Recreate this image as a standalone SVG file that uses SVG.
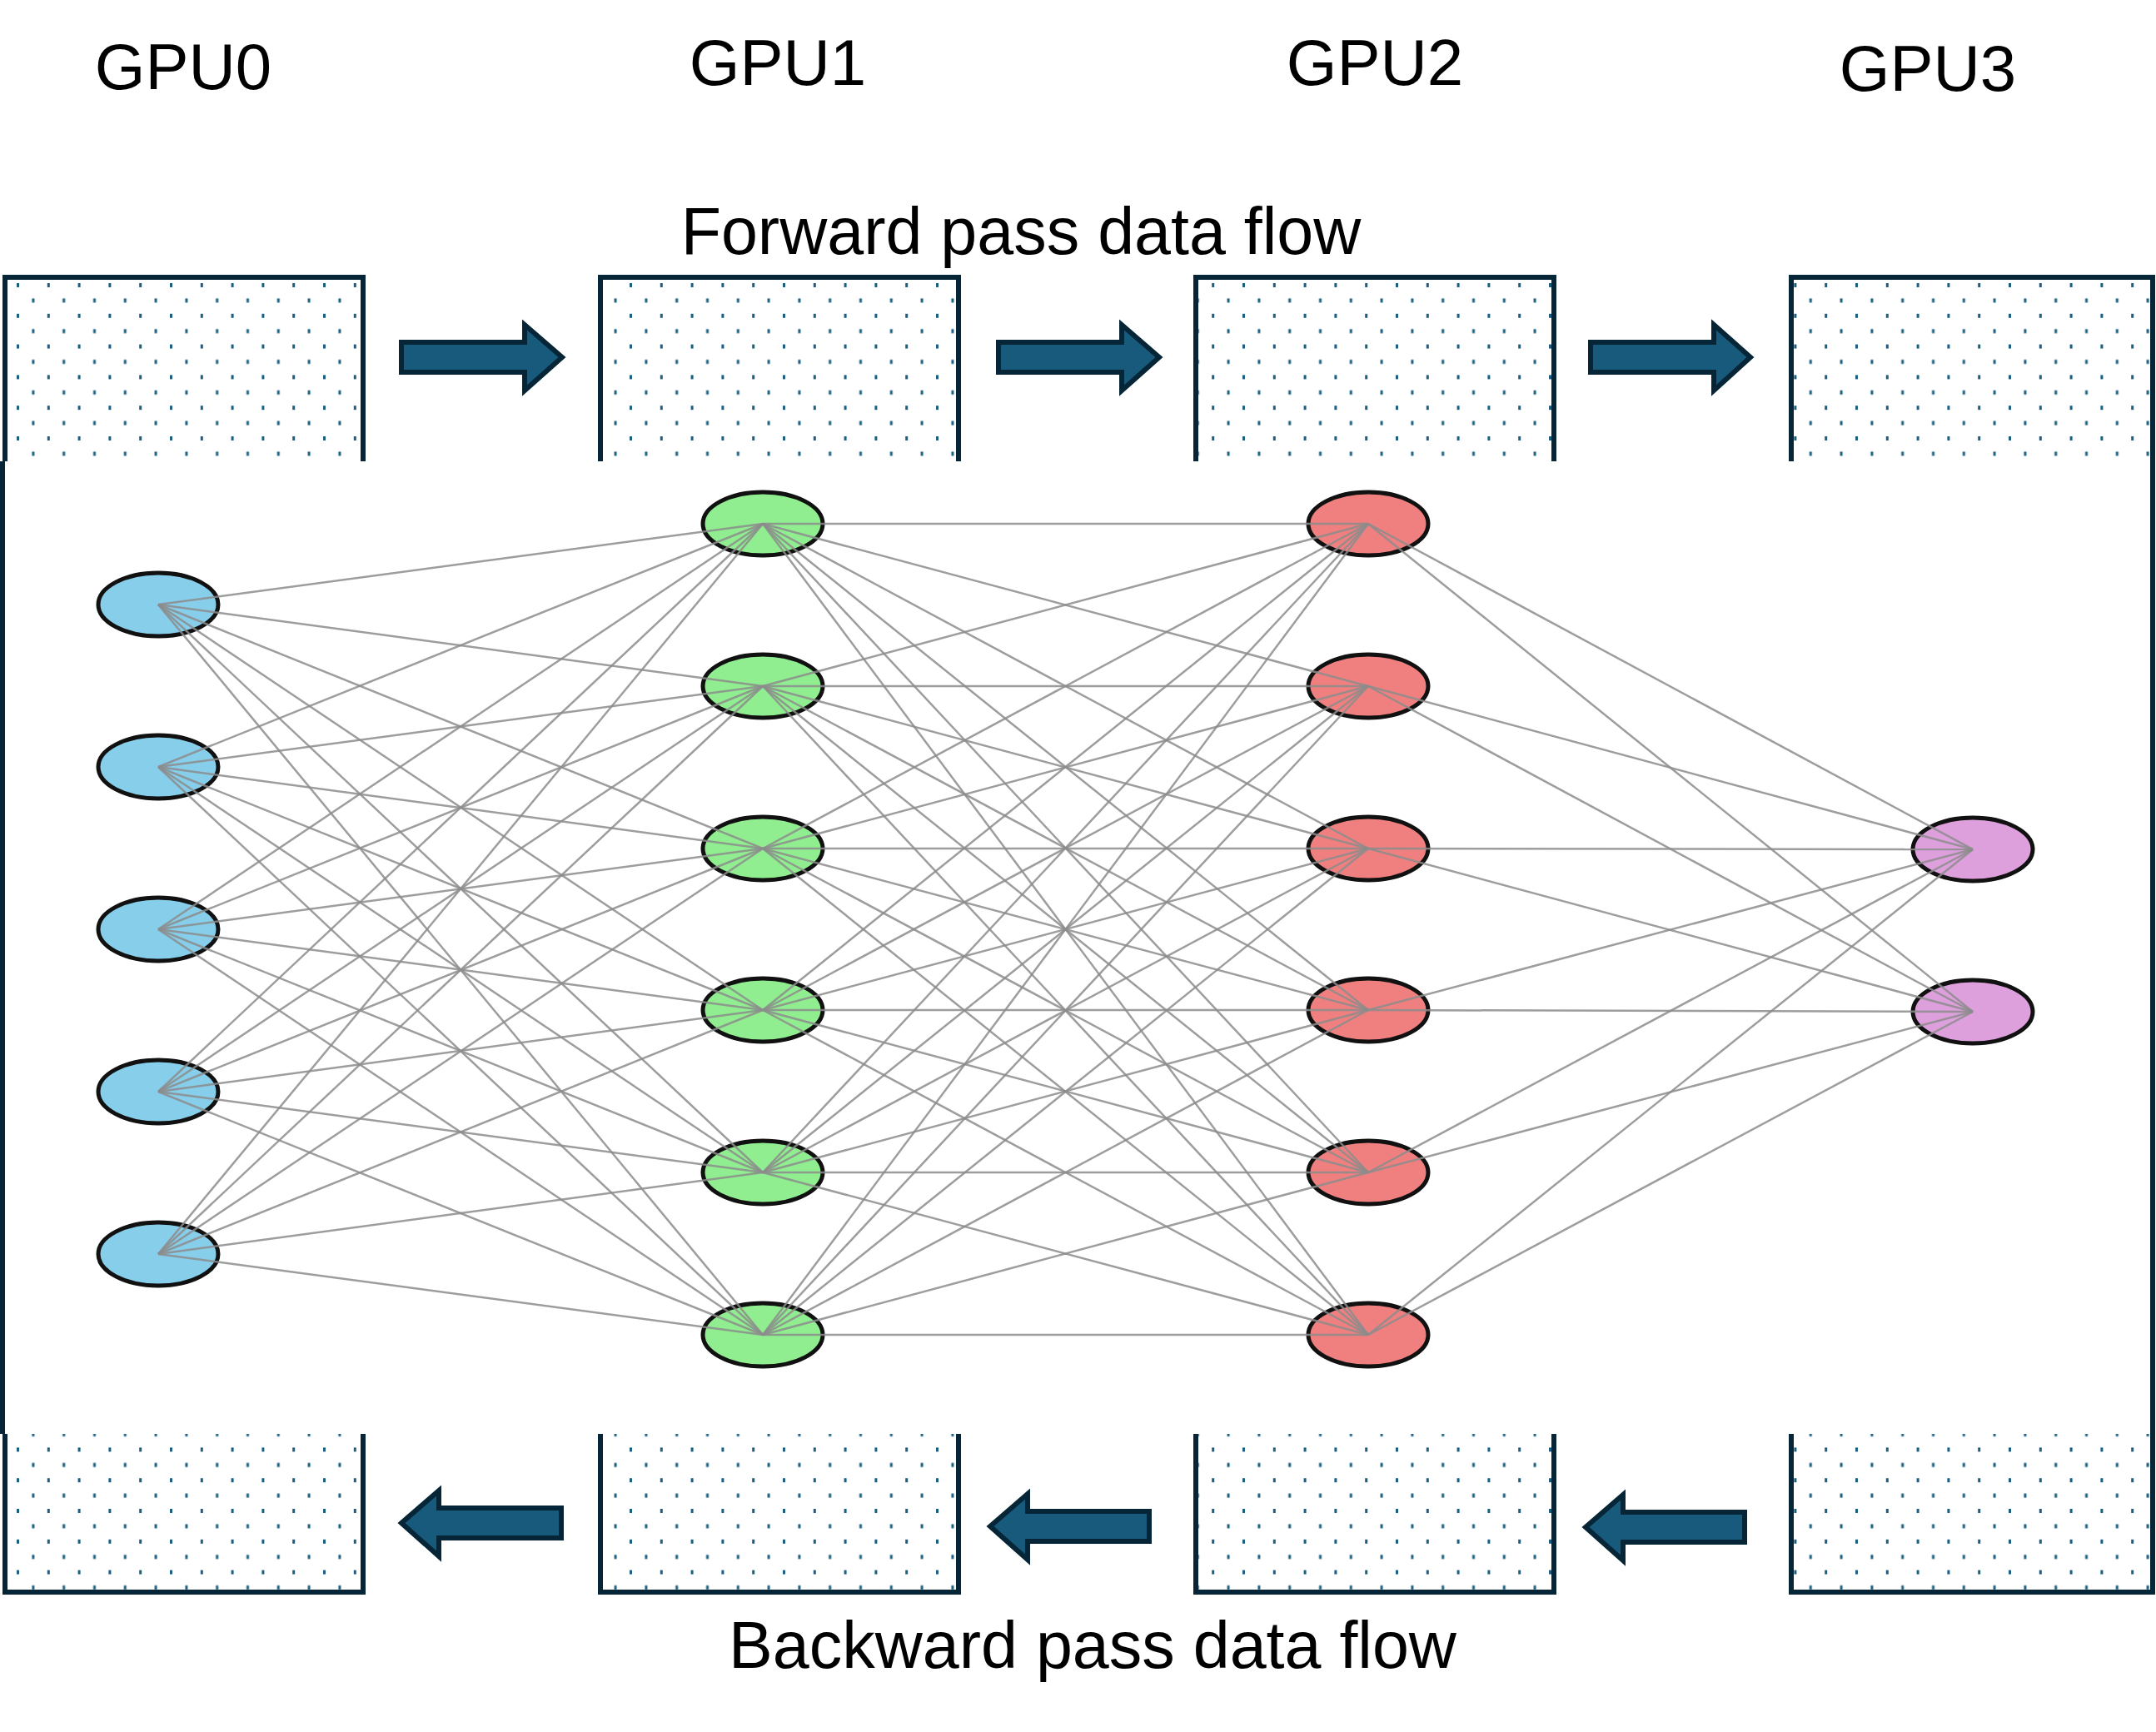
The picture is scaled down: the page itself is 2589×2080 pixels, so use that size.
<svg xmlns="http://www.w3.org/2000/svg" width="2589" height="2080" viewBox="0 0 2589 2080">
<style>
.lbl{font-family:"Liberation Sans",Arial,sans-serif;fill:#000}
.box{fill:url(#dots);stroke:none}
.edge{stroke:#062537;stroke-width:6;fill:none}
.arrow{fill:#175a7c;stroke:#062537;stroke-width:6}
.n{stroke:#111;stroke-width:5}
.c line{stroke:#8c8c8c;stroke-width:2.5;stroke-opacity:0.85}
</style>
<defs>
<pattern id="dots" patternUnits="userSpaceOnUse" x="20" y="340" width="36.8" height="36.8">
<rect x="0" y="0" width="3" height="5" fill="#1a5e80"/>
<rect x="18.4" y="18.4" width="3" height="5" fill="#1a5e80"/>
</pattern>
</defs>
<rect width="2589" height="2080" fill="#fff"/>
<text class="lbl" x="220" y="107" font-size="78" text-anchor="middle">GPU0</text>
<text class="lbl" x="934" y="102" font-size="78" text-anchor="middle">GPU1</text>
<text class="lbl" x="1651" y="102" font-size="78" text-anchor="middle">GPU2</text>
<text class="lbl" x="2315" y="109" font-size="78" text-anchor="middle">GPU3</text>
<text class="lbl" x="1226" y="305" font-size="79" text-anchor="middle">Forward pass data flow</text>
<text class="lbl" x="1312" y="2003" font-size="79" text-anchor="middle">Backward pass data flow</text>
<g id="frame">
<line class="edge" x1="3" y1="554" x2="3" y2="1722" stroke-width="3"/>
<line class="edge" x1="2585" y1="330" x2="2585" y2="1915"/>
</g>
<g id="top-boxes">
<rect class="box" x="6" y="335" width="430" height="219"/><path class="edge" d="M6,554V333H436V554"/>
<rect class="box" x="721" y="335" width="430" height="219"/><path class="edge" d="M721,554V333H1151V554"/>
<rect class="box" x="1436" y="335" width="430" height="219"/><path class="edge" d="M1436,554V333H1866V554"/>
<rect class="box" x="2151" y="335" width="431" height="219"/><path class="edge" d="M2151,554V333H2585V554"/>
</g>
<g id="bottom-boxes">
<rect class="box" x="6" y="1722" width="430" height="190"/><path class="edge" d="M6,1722V1912H436V1722"/>
<rect class="box" x="721" y="1722" width="430" height="190"/><path class="edge" d="M721,1722V1912H1151V1722"/>
<rect class="box" x="1436" y="1722" width="430" height="190"/><path class="edge" d="M1436,1722V1912H1866V1722"/>
<rect class="box" x="2151" y="1722" width="431" height="190"/><path class="edge" d="M2151,1722V1912H2585V1722"/>
</g>
<g id="arrows">
<path class="arrow" d="M482,411H630V390L675,429L630,469V447H482Z"/>
<path class="arrow" d="M1199,411H1347V390L1392,429L1347,469V447H1199Z"/>
<path class="arrow" d="M1910,411H2058V390L2102,429L2058,469V447H1910Z"/>
<path class="arrow" d="M674,1811H527V1790L482,1829L527,1869V1847H674Z"/>
<path class="arrow" d="M1380,1815H1234V1794L1189,1833L1234,1873V1851H1380Z"/>
<path class="arrow" d="M2095,1816H1949V1795L1904,1834L1949,1874V1852H2095Z"/>
</g>
<g id="nodes">
<g id="b0"><ellipse class="n" cx="190" cy="726" rx="72" ry="38" fill="#87ceeb"/></g>
<g id="b1"><ellipse class="n" cx="190" cy="921" rx="72" ry="38" fill="#87ceeb"/></g>
<g id="b2"><ellipse class="n" cx="190" cy="1116" rx="72" ry="38" fill="#87ceeb"/></g>
<g id="b3"><ellipse class="n" cx="190" cy="1311" rx="72" ry="38" fill="#87ceeb"/></g>
<g id="b4"><ellipse class="n" cx="190" cy="1506" rx="72" ry="38" fill="#87ceeb"/></g>
<g id="g0"><ellipse class="n" cx="916" cy="629" rx="72" ry="38" fill="#90ee90"/></g>
<g id="g1"><ellipse class="n" cx="916" cy="824" rx="72" ry="38" fill="#90ee90"/></g>
<g id="g2"><ellipse class="n" cx="916" cy="1019" rx="72" ry="38" fill="#90ee90"/></g>
<g id="g3"><ellipse class="n" cx="916" cy="1213" rx="72" ry="38" fill="#90ee90"/></g>
<g id="g4"><ellipse class="n" cx="916" cy="1408" rx="72" ry="38" fill="#90ee90"/></g>
<g id="g5"><ellipse class="n" cx="916" cy="1603" rx="72" ry="38" fill="#90ee90"/></g>
<g id="r0"><ellipse class="n" cx="1643" cy="629" rx="72" ry="38" fill="#f08080"/></g>
<g id="r1"><ellipse class="n" cx="1643" cy="824" rx="72" ry="38" fill="#f08080"/></g>
<g id="r2"><ellipse class="n" cx="1643" cy="1019" rx="72" ry="38" fill="#f08080"/></g>
<g id="r3"><ellipse class="n" cx="1643" cy="1213" rx="72" ry="38" fill="#f08080"/></g>
<g id="r4"><ellipse class="n" cx="1643" cy="1408" rx="72" ry="38" fill="#f08080"/></g>
<g id="r5"><ellipse class="n" cx="1643" cy="1603" rx="72" ry="38" fill="#f08080"/></g>
<g id="p0"><ellipse class="n" cx="2369" cy="1020" rx="72" ry="38" fill="#dda0dd"/></g>
<g id="p1"><ellipse class="n" cx="2369" cy="1215" rx="72" ry="38" fill="#dda0dd"/></g>
</g>
<g id="connectors" class="c">
<line x1="190" y1="726" x2="916" y2="629"/><line x1="190" y1="726" x2="916" y2="824"/><line x1="190" y1="726" x2="916" y2="1019"/><line x1="190" y1="726" x2="916" y2="1213"/><line x1="190" y1="726" x2="916" y2="1408"/><line x1="190" y1="726" x2="916" y2="1603"/>
<line x1="190" y1="921" x2="916" y2="629"/><line x1="190" y1="921" x2="916" y2="824"/><line x1="190" y1="921" x2="916" y2="1019"/><line x1="190" y1="921" x2="916" y2="1213"/><line x1="190" y1="921" x2="916" y2="1408"/><line x1="190" y1="921" x2="916" y2="1603"/>
<line x1="190" y1="1116" x2="916" y2="629"/><line x1="190" y1="1116" x2="916" y2="824"/><line x1="190" y1="1116" x2="916" y2="1019"/><line x1="190" y1="1116" x2="916" y2="1213"/><line x1="190" y1="1116" x2="916" y2="1408"/><line x1="190" y1="1116" x2="916" y2="1603"/>
<line x1="190" y1="1311" x2="916" y2="629"/><line x1="190" y1="1311" x2="916" y2="824"/><line x1="190" y1="1311" x2="916" y2="1019"/><line x1="190" y1="1311" x2="916" y2="1213"/><line x1="190" y1="1311" x2="916" y2="1408"/><line x1="190" y1="1311" x2="916" y2="1603"/>
<line x1="190" y1="1506" x2="916" y2="629"/><line x1="190" y1="1506" x2="916" y2="824"/><line x1="190" y1="1506" x2="916" y2="1019"/><line x1="190" y1="1506" x2="916" y2="1213"/><line x1="190" y1="1506" x2="916" y2="1408"/><line x1="190" y1="1506" x2="916" y2="1603"/>
<line x1="916" y1="629" x2="1643" y2="629"/><line x1="916" y1="629" x2="1643" y2="824"/><line x1="916" y1="629" x2="1643" y2="1019"/><line x1="916" y1="629" x2="1643" y2="1213"/><line x1="916" y1="629" x2="1643" y2="1408"/><line x1="916" y1="629" x2="1643" y2="1603"/>
<line x1="916" y1="824" x2="1643" y2="629"/><line x1="916" y1="824" x2="1643" y2="824"/><line x1="916" y1="824" x2="1643" y2="1019"/><line x1="916" y1="824" x2="1643" y2="1213"/><line x1="916" y1="824" x2="1643" y2="1408"/><line x1="916" y1="824" x2="1643" y2="1603"/>
<line x1="916" y1="1019" x2="1643" y2="629"/><line x1="916" y1="1019" x2="1643" y2="824"/><line x1="916" y1="1019" x2="1643" y2="1019"/><line x1="916" y1="1019" x2="1643" y2="1213"/><line x1="916" y1="1019" x2="1643" y2="1408"/><line x1="916" y1="1019" x2="1643" y2="1603"/>
<line x1="916" y1="1213" x2="1643" y2="629"/><line x1="916" y1="1213" x2="1643" y2="824"/><line x1="916" y1="1213" x2="1643" y2="1019"/><line x1="916" y1="1213" x2="1643" y2="1213"/><line x1="916" y1="1213" x2="1643" y2="1408"/><line x1="916" y1="1213" x2="1643" y2="1603"/>
<line x1="916" y1="1408" x2="1643" y2="629"/><line x1="916" y1="1408" x2="1643" y2="824"/><line x1="916" y1="1408" x2="1643" y2="1019"/><line x1="916" y1="1408" x2="1643" y2="1213"/><line x1="916" y1="1408" x2="1643" y2="1408"/><line x1="916" y1="1408" x2="1643" y2="1603"/>
<line x1="916" y1="1603" x2="1643" y2="629"/><line x1="916" y1="1603" x2="1643" y2="824"/><line x1="916" y1="1603" x2="1643" y2="1019"/><line x1="916" y1="1603" x2="1643" y2="1213"/><line x1="916" y1="1603" x2="1643" y2="1408"/><line x1="916" y1="1603" x2="1643" y2="1603"/>
<line x1="1643" y1="629" x2="2369" y2="1020"/><line x1="1643" y1="629" x2="2369" y2="1215"/>
<line x1="1643" y1="824" x2="2369" y2="1020"/><line x1="1643" y1="824" x2="2369" y2="1215"/>
<line x1="1643" y1="1019" x2="2369" y2="1020"/><line x1="1643" y1="1019" x2="2369" y2="1215"/>
<line x1="1643" y1="1213" x2="2369" y2="1020"/><line x1="1643" y1="1213" x2="2369" y2="1215"/>
<line x1="1643" y1="1408" x2="2369" y2="1020"/><line x1="1643" y1="1408" x2="2369" y2="1215"/>
<line x1="1643" y1="1603" x2="2369" y2="1020"/><line x1="1643" y1="1603" x2="2369" y2="1215"/>
</g>
</svg>
